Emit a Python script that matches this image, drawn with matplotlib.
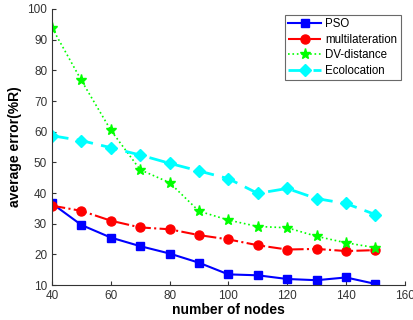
import matplotlib
matplotlib.use("Agg")
import matplotlib.pyplot as plt

nodes = [40, 50, 60, 70, 80, 90, 100, 110, 120, 130, 140, 150]
pso = [36.6, 29.6, 25.5, 22.7, 20.3, 17.3, 13.5, 13.2, 12.0, 11.6, 12.5, 10.4]
multilateration = [35.9, 34.2, 31.0, 28.8, 28.2, 26.3, 24.9, 23.0, 21.6, 21.8, 21.1, 21.4]
dv_distance = [93.9, 76.7, 60.5, 47.6, 43.4, 34.1, 31.2, 29.1, 28.7, 25.9, 23.8, 22.2]
ecolocation = [58.7, 57.1, 54.8, 52.4, 49.7, 47.2, 44.7, 39.9, 41.5, 38.2, 36.6, 33.0]
xticks = [40, 60, 80, 100, 120, 140, 160]
yticks = [10, 20, 30, 40, 50, 60, 70, 80, 90, 100]

plt.rcParams['font.family'] = ['Liberation Sans', 'DejaVu Sans']

fig = plt.figure(figsize=(4.14, 3.2), dpi=100)
ax = fig.add_axes([0.1256, 0.109, 0.852, 0.863])

ax.plot(nodes, pso, '-', color='#0000ff', lw=1.5, marker='s', ms=6, label='PSO')
ax.plot(nodes, multilateration, '-.', color='#ff0000', lw=1.5, marker='o', ms=6.5, label='multilateration')
ax.plot(nodes, dv_distance, ':', color='#00ff00', lw=1.2, marker='*', ms=8, label='DV-distance')
ax.plot(nodes, ecolocation, '--', color='#00ffff', lw=2, marker='D', ms=6, label='Ecolocation', dashes=(6, 3))

ax.set_xlim(40, 160)
ax.set_ylim(10, 100)
ax.set_xticks(xticks)
ax.set_yticks(yticks)
ax.tick_params(direction='in', labelsize=8.5, length=3, colors='#333333', labelcolor='#333333')
for s in ['top', 'right']:
    ax.spines[s].set_visible(False)
for s in ['left', 'bottom']:
    ax.spines[s].set_color('#333333')

ax.set_xlabel('number of nodes', fontsize=10, fontweight='bold', labelpad=1)
ax.set_ylabel('average error(%R)', fontsize=10, fontweight='bold', labelpad=4)

leg = ax.legend(loc='upper right', bbox_to_anchor=(0.989, 0.978), borderaxespad=0,
                fontsize=8.3, frameon=True,
                fancybox=False, edgecolor='#444444', handlelength=2.8, borderpad=0.3,
                labelspacing=0.3, handletextpad=0.4)
leg.get_frame().set_linewidth(0.8)

fig.savefig('out.png', dpi=100)
